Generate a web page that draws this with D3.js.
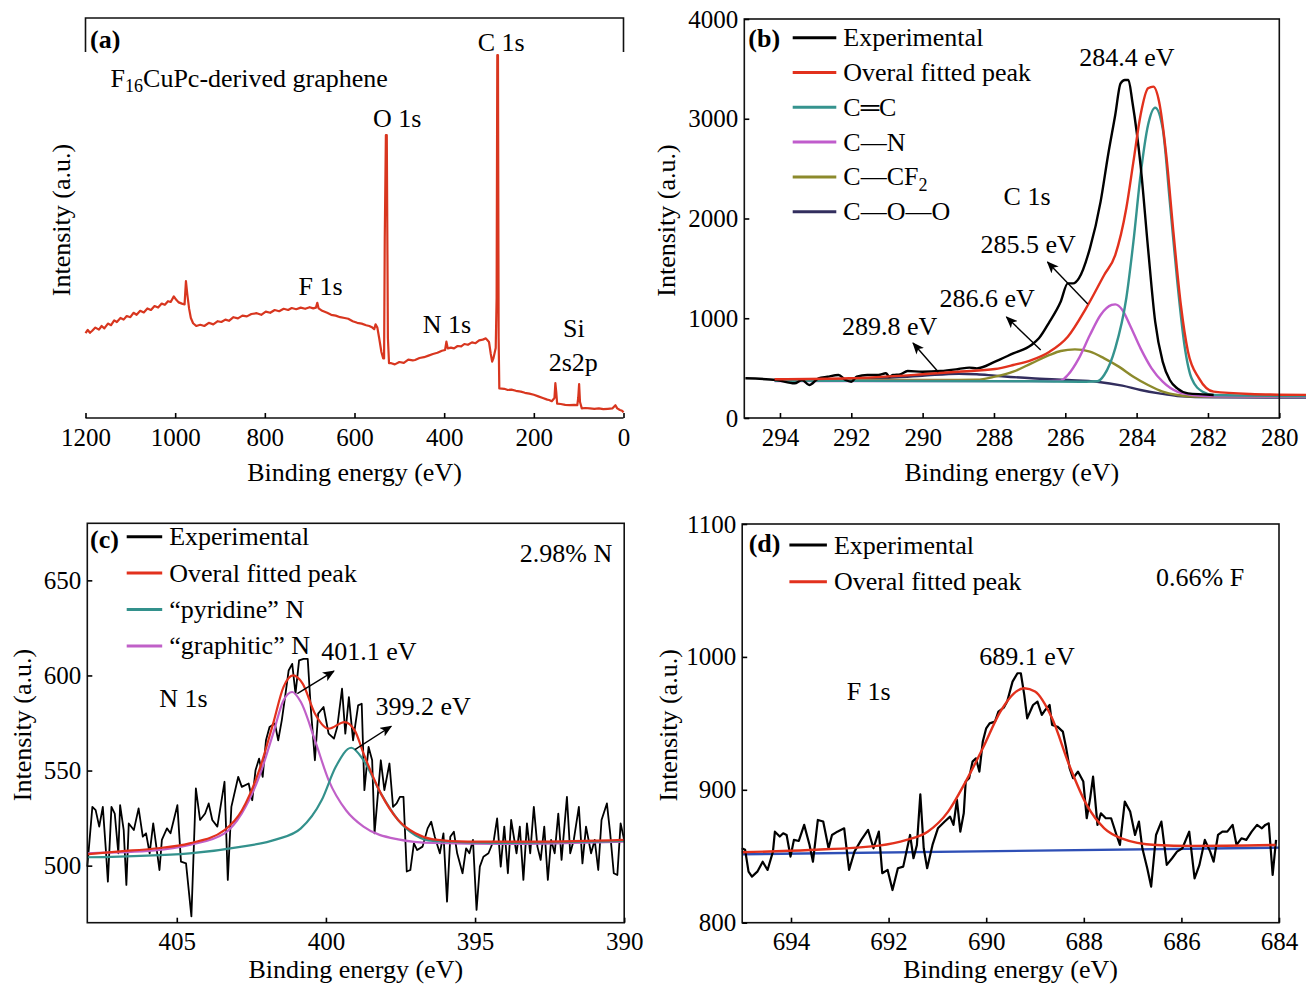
<!DOCTYPE html>
<html>
<head>
<meta charset="utf-8">
<script src="https://cdn.jsdelivr.net/npm/d3@7"></script>
<style>
body{margin:0;background:#fff}
svg text{font-family:"Liberation Serif","Times New Roman",serif;fill:#000}
</style>
</head>
<body>
<script>
// ---------- data (binding energy eV, intensity) ----------
// (a) survey, arbitrary units 0..100
const surveyA = [[1200,21.2],[1195,22.0],[1190,21.3],[1185,21.8],[1178,22.6],[1170,22.1],[1164,23.0],[1158,22.4],[1150,23.6],[1143,23.2],[1136,24.4],[1130,24.0],[1122,25.0],[1115,24.6],[1108,25.5],[1100,25.2],[1093,26.3],[1086,25.8],[1078,26.8],[1070,26.4],[1062,27.4],[1054,27.0],[1046,28.0],[1038,27.6],[1030,28.6],[1023,28.3],[1016,29.2],[1010,29.0],[1003,30.4],[998,29.6],[992,28.9],[985,28.6],[979,28.4],[976,34.2],[973,31],[969,27.4],[965,25.0],[960,23.7],[953,23.0],[944,23.3],[935,23.0],[925,23.8],[915,23.4],[905,24.2],[897,24.0],[888,24.6],[880,24.3],[870,25.2],[860,24.9],[850,25.6],[840,25.4],[830,26.0],[818,26.2],[808,25.8],[798,26.6],[788,26.3],[778,27.0],[768,26.7],[758,27.3],[748,27.0],[740,27.5],[730,27.2],[720,27.6],[710,27.3],[700,27.7],[692,27.4],[686,27.6],[683,28.8],[680,27.4],[672,26.8],[661,26.3],[652,25.8],[642,25.6],[632,25.2],[622,25.0],[614,24.8],[604,24.2],[594,23.8],[584,23.6],[574,23.2],[567,23.0],[560,22.6],[556,22.2],[553,23.4],[549,22.6],[545,20.0],[540,16.5],[536,14.9],[534,14.9],[532.5,45],[530,70.7],[528,70.7],[525.5,20],[523,13.7],[518,13.7],[510,13.4],[500,14.0],[490,13.8],[480,14.6],[470,14.4],[465,14.5],[455,15.0],[445,15.2],[435,15.6],[425,16.0],[415,16.3],[405,16.8],[398,17.0],[395,19.1],[392,17.4],[385,17.6],[378,17.4],[370,18.0],[362,17.9],[355,18.5],[347,18.3],[338,18.9],[330,18.7],[322,19.4],[314,19.6],[307,19.9],[300,19.0],[296,16],[293,14.1],[290,15],[286,17.0],[285,17.5],[283,30],[281.5,90.7],[280,90.7],[278.5,20],[277,7.4],[266,7.3],[258,7.0],[250,7.1],[240,6.8],[229,6.6],[220,6.3],[210,6.1],[200,5.8],[190,5.4],[180,5.0],[170,4.6],[166,4.5],[160,4.2],[154,5.0],[152,8.7],[150,6.5],[148,3.6],[140,3.5],[130,3.3],[120,3.2],[110,3.3],[103,3.2],[101,5],[99,8.5],[97,4],[93,2.4],[85,2.5],[75,2.4],[65,2.3],[55,2.4],[45,2.2],[35,2.3],[25,2.4],[18,3.2],[14,2.4],[8,2.0],[3,1.8],[0,1.4]];

// (b) C 1s
const expB = [[294.97,398],[294.10,381],[293.59,348],[293.38,381],[293.18,331],[292.92,398],[292.67,414],[292.36,431],[292.16,381],[292.0,364],[291.85,414],[291.55,431],[291.24,431],[291.03,448],[290.93,414],[290.83,431],[290.63,438],[290.42,471],[290.01,464],[289.50,471],[288.99,491],[288.69,505],[288.48,498],[287.97,565],[287.46,648],[286.95,732],[286.74,799],[286.44,966],[286.13,1166],[285.93,1350],[285.78,1350],[285.62,1400],[285.31,1701],[285.01,2169],[284.80,2637],[284.60,3038],[284.45,3355],[284.33,3388],[284.23,3388],[284.12,3171],[283.89,2536],[283.68,1701],[283.48,966],[283.27,565],[283.07,381],[282.86,297],[282.56,247],[282.15,237],[281.84,231]];
const fitB = [[294.15,388],[292.06,398],[290.01,438],[288.99,464],[287.97,491],[287.46,531],[286.95,581],[286.44,665],[285.93,815],[285.42,1099],[284.91,1434],[284.60,1634],[284.29,2102],[284.09,2570],[283.89,3038],[283.68,3305],[283.53,3322],[283.37,3171],[283.17,2637],[282.97,1868],[282.76,1133],[282.56,665],[282.25,398],[281.84,264],[280.82,241],[279.1,231]];
const ccB = [[294.15,374],[290,370],[287,368],[285.42,364],[285.1,368],[284.91,431],[284.60,698],[284.29,1200],[284.09,1768],[283.89,2436],[283.68,2937],[283.48,3111],[283.27,2904],[283.07,2169],[282.86,1367],[282.66,732],[282.46,398],[282.15,264],[281.84,231],[279.1,221]];
const cnB = [[294.15,371],[292,371],[288,370],[286.5,370],[286.13,375],[285.93,431],[285.62,598],[285.31,832],[285.01,1033],[284.7,1133],[284.60,1139],[284.4,1083],[284.19,932],[283.89,698],[283.58,498],[283.27,364],[282.86,264],[282.35,227],[281.84,217],[279.1,215]];
const ccf2B = [[294.15,381],[290,381],[288.48,383],[287.97,414],[287.46,464],[286.95,548],[286.44,632],[286.13,672],[285.73,688],[285.31,665],[284.91,598],[284.5,515],[284.09,414],[283.68,331],[283.27,264],[282.86,231],[282.35,214],[279.1,212]];
const cooB = [[294.15,385],[292,388],[290.01,424],[288.99,444],[288.48,438],[287.97,424],[286.95,398],[285.93,381],[285.11,364],[284.4,324],[283.89,281],[283.37,247],[282.86,221],[281.84,207],[279.1,205]];

// (c) N 1s
const expC = [[408.0,499.5],[407.83,530.9],[407.72,529.2],[407.60,520.5],[407.48,530.9],[407.37,506.5],[407.31,491.6],[407.19,530.9],[407.08,527.4],[406.96,506.5],[406.90,531.8],[406.78,518.7],[406.69,489.9],[406.61,522.2],[406.44,518.7],[406.28,530.1],[406.14,515.2],[406.03,517.0],[405.91,506.5],[405.79,522.2],[405.58,497.7],[405.50,513.5],[405.33,519.6],[405.21,517.0],[404.98,531.8],[404.86,502.1],[404.69,501.2],[404.51,473.3],[404.36,540.6],[404.22,524.0],[404.05,527.4],[403.93,532.7],[403.81,524.0],[403.64,520.5],[403.40,544.1],[403.29,492.5],[403.17,530.9],[402.94,546.7],[402.82,541.4],[402.59,543.2],[402.47,534.4],[402.36,550.2],[402.24,556.3],[402.12,546.7],[402.01,565.9],[401.89,572.9],[401.71,574.7],[401.60,565.9],[401.48,576.4],[401.37,588.6],[401.25,602.6],[401.13,606.1],[401.02,590.4],[400.90,607.9],[400.75,608.7],[400.61,608.7],[400.51,583.4],[400.37,555.4],[400.26,579.9],[400.08,583.4],[399.91,569.4],[399.73,566.8],[399.62,572.9],[399.46,593.0],[399.35,569.4],[399.23,588.6],[399.09,565.9],[398.92,584.3],[398.80,585.1],[398.71,539.7],[398.57,562.4],[398.45,555.4],[398.37,517.0],[398.16,555.4],[398.04,539.7],[397.87,553.7],[397.75,530.9],[397.63,532.7],[397.52,536.2],[397.40,536.2],[397.29,496.9],[397.17,497.7],[397.05,511.7],[396.94,508.2],[396.76,510.0],[396.59,519.6],[396.47,523.1],[396.35,515.2],[396.18,506.5],[396.06,517.0],[395.94,481.1],[395.83,515.2],[395.71,517.8],[395.60,506.5],[395.42,496.0],[395.30,509.1],[395.19,506.5],[395.07,513.5],[394.95,476.7],[394.84,499.5],[394.72,504.7],[394.55,506.5],[394.37,513.5],[394.26,524.8],[394.14,499.5],[394.02,520.5],[393.90,496.0],[393.79,524.0],[393.61,506.5],[393.50,520.5],[393.38,492.5],[393.26,522.2],[393.15,506.5],[393.03,530.9],[392.91,510.0],[392.80,503.0],[392.68,520.5],[392.56,492.5],[392.45,513.5],[392.33,506.5],[392.21,527.4],[392.10,503.0],[391.92,536.2],[391.81,506.5],[391.69,513.5],[391.52,530.9],[391.40,501.2],[391.28,520.5],[391.11,506.5],[390.99,513.5],[390.87,497.7],[390.76,524.0],[390.58,532.7],[390.47,517.0],[390.35,496.0],[390.23,495.1],[390.12,522.2],[390.0,513.5]];
const fitC = [[408,506],[406.9,507.5],[405.74,509],[404.57,511.7],[403.4,518.7],[402.82,529],[402.24,550],[401.77,574.7],[401.42,594],[401.1,600],[400.78,595.7],[400.37,580],[399.91,572],[399.38,575.5],[399.03,571],[398.74,559],[398.16,538],[397.58,524],[397.0,517],[396.41,513.8],[395.25,512.6],[392.91,512.6],[390,513.5]];
const pyrC = [[408,504.4],[404.57,506.5],[402.82,510],[401.66,513.8],[400.84,519.6],[400.14,534.5],[399.67,552],[399.15,562],[398.74,555.4],[398.16,538],[397.58,524],[397.0,516],[396.41,513],[394.08,512],[390,513]];
const graC = [[408,506.5],[405.74,508],[404.57,510.9],[403.4,517],[402.82,527.5],[402.24,546.7],[401.77,569.4],[401.42,587],[401.13,591.3],[400.84,586],[400.37,566],[399.91,545],[399.32,529],[398.74,520.5],[397.58,513.8],[396.41,511.9],[394.08,511.4],[390,512.6]];

// (d) F 1s
const expD = [[695.01,856.0],[694.94,854.8],[694.87,838.4],[694.80,834.7],[694.69,838.4],[694.58,845.9],[694.48,839.7],[694.37,853.5],[694.33,868.5],[694.23,864.8],[694.16,867.3],[694.09,866.0],[694.01,849.7],[693.94,862.3],[693.84,861.5],[693.73,873.6],[693.62,858.5],[693.55,845.9],[693.45,877.3],[693.34,876.1],[693.23,856.0],[693.16,866.0],[693.05,868.5],[692.91,871.0],[692.81,839.7],[692.70,853.5],[692.56,862.3],[692.42,869.8],[692.31,856.0],[692.20,868.5],[692.13,837.2],[692.02,839.7],[691.92,824.6],[691.81,841.0],[691.70,842.2],[691.56,866.0],[691.49,848.5],[691.42,858.5],[691.35,896.6],[691.28,856.0],[691.21,841.0],[691.10,858.5],[690.99,871.0],[690.85,876.1],[690.74,879.8],[690.67,873.6],[690.60,892.4],[690.53,868.5],[690.46,882.3],[690.42,906.2],[690.35,908.7],[690.28,921.2],[690.21,923.7],[690.14,913.7],[690.07,936.3],[690.00,946.3],[689.93,950.0],[689.82,951.3],[689.75,958.8],[689.64,961.8],[689.57,966.4],[689.46,981.4],[689.36,987.7],[689.29,987.7],[689.22,971.4],[689.16,953.8],[689.04,963.8],[688.95,966.4],[688.86,956.3],[688.79,960.1],[688.70,963.8],[688.65,948.8],[688.54,947.5],[688.43,943.8],[688.36,931.2],[688.29,916.2],[688.22,908.7],[688.12,913.7],[688.01,906.2],[687.94,878.6],[687.87,893.6],[687.81,909.9],[687.72,873.6],[687.65,882.3],[687.55,878.6],[687.44,878.6],[687.33,866.0],[687.26,858.5],[687.16,891.1],[687.05,883.6],[686.95,866.0],[686.87,876.1],[686.80,856.0],[686.70,841.0],[686.62,827.2],[686.52,866.0],[686.41,876.1],[686.30,843.5],[686.19,848.5],[686.09,853.5],[685.98,856.0],[685.84,868.5],[685.73,833.4],[685.63,843.5],[685.52,862.3],[685.41,853.5],[685.34,845.9],[685.25,866.0],[685.16,868.5],[685.06,868.5],[684.95,873.6],[684.87,858.5],[684.77,863.5],[684.67,862.3],[684.56,868.5],[684.45,873.6],[684.35,871.0],[684.28,873.6],[684.21,874.8],[684.13,836.0],[684.06,862.3]];
const fitD = [[695.01,853.0],[693.62,854.7],[692.2,858.0],[691.63,862.3],[691.2,868.5],[690.78,883.6],[690.42,906.2],[690.07,931.2],[689.71,958.8],[689.43,972.6],[689.22,976.4],[689.0,973.9],[688.65,953.8],[688.3,918.7],[687.94,888.6],[687.58,871.0],[687.23,863.5],[686.52,858.5],[685.8,857.8],[684.07,858.5]];
const baseD = [[695,851.5],[684,856.5]];

// ticks
const ticksAx = [1200,1000,800,600,400,200,0];
const ticksBx = [294,292,290,288,286,284,282,280];
const ticksBy = [0,1000,2000,3000,4000];
const ticksCx = [405,400,395,390];
const ticksCy = [500,550,600,650];
const ticksDx = [694,692,690,688,686,684];
const ticksDy = [800,900,1000,1100];

// legend labels
const legendB = ['Experimental','Overal fitted peak','C\u2550C','C\u2014N','C\u2014CF','C\u2014O\u2014O'];
const legendC = ['Experimental','Overal fitted peak','\u201cpyridine\u201d N','\u201cgraphitic\u201d N'];
const legendD = ['Experimental','Overal fitted peak'];

// annotations [energy, intensity, text]
const notesA = [[325,91.75,'C 1s'],[559,72.8,'O 1s'],[725,30.75,'F 1s'],[448,21.25,'N 1s'],[135,20.3,'Si'],[167,11.75,'2s2p']];
const notesB = [[287.73,2135,'C 1s'],[288.38,1654,'285.5 eV'],[289.53,1113,'286.6 eV'],[292.26,832,'289.8 eV']];
const arrowsB = [[285.37,1143,286.50,1564],[286.69,682,287.65,1013],[289.56,461,290.27,752]];
const notesC = [[405.59,583.4,'N 1s'],[400.16,607.9,'401.1 eV'],[398.34,579,'399.2 eV'],[393.5,659.4,'2.98% N']];
const arrowsC = [[400.96,590.4,399.73,602.3],[399.03,561,397.81,573.3]];
const notesD = [[692.86,967.6,'F 1s'],[690.14,993.9,'689.1 eV'],[686.52,1053.3,'0.66% F']];

// ---------- drawing ----------
const svg = d3.select('body').append('svg').attr('width',1306).attr('height',988);
svg.append('defs').append('marker').attr('id','arr')
  .attr('markerUnits','userSpaceOnUse').attr('markerWidth',12).attr('markerHeight',10)
  .attr('refX',11).attr('refY',5).attr('orient','auto')
  .append('path').attr('d','M0,0 L12,5 L0,10 L3,5 Z').attr('fill','#000');

const FS = 25;

function makePanel(box, xd, yd){
  const x = d3.scaleLinear().domain(xd).range([box.l, box.r]);
  const y = d3.scaleLinear().domain(yd).range([box.b, box.t]);
  return {x, y, box, g: svg.append('g')};
}

function axes(p, xt, yt){
  const gx = p.g.append('g').attr('transform','translate(0,'+p.box.b+')')
    .call(d3.axisBottom(p.x).tickValues(xt).tickSizeInner(-5).tickSizeOuter(0).tickPadding(10).tickFormat(d3.format('d')));
  gx.select('.domain').remove();
  gx.selectAll('line').attr('stroke','#000').attr('stroke-width',1.6);
  gx.selectAll('text').attr('font-size',FS).attr('font-family','Liberation Serif');
  if(yt){
    const gy = p.g.append('g').attr('transform','translate('+p.box.l+',0)')
      .call(d3.axisLeft(p.y).tickValues(yt).tickSizeInner(-5).tickSizeOuter(0).tickPadding(6).tickFormat(d3.format('d')));
    gy.select('.domain').remove();
    gy.selectAll('line').attr('stroke','#000').attr('stroke-width',1.6);
    gy.selectAll('text').attr('font-size',FS).attr('font-family','Liberation Serif');
  }
}

function frame(p){
  const b = p.box;
  p.g.append('rect').attr('x',b.l).attr('y',b.t).attr('width',b.r-b.l).attr('height',b.b-b.t)
    .attr('fill','none').attr('stroke','#111').attr('stroke-width',1.6);
}

function line(p, data, color, w, smooth){
  const gen = d3.line().x(d=>p.x(d[0])).y(d=>p.y(d[1]))
    .curve(smooth ? d3.curveMonotoneX : d3.curveLinear);
  p.g.append('path').datum(data).attr('d',gen).attr('fill','none')
    .attr('stroke',color).attr('stroke-width',w).attr('stroke-linejoin','round');
}

function titles(p, yx, xy){
  const b = p.box;
  p.g.append('text').attr('x',(b.l+b.r)/2).attr('y',xy).attr('text-anchor','middle')
    .attr('font-size',26).text('Binding energy (eV)');
  p.g.append('text').attr('transform','translate('+yx+','+((b.t+b.b)/2+2)+') rotate(-90)')
    .attr('text-anchor','middle').attr('font-size',26).text('Intensity (a.u.)');
}

function label(p, txt, dx, dy){
  p.g.append('text').attr('x',p.box.l+dx).attr('y',p.box.t+dy).attr('font-size',26)
    .attr('font-weight','bold').text(txt);
}

function notes(p, arr){
  p.g.selectAll(null).data(arr).enter().append('text')
    .attr('x',d=>p.x(d[0])).attr('y',d=>p.y(d[1])).attr('font-size',26).text(d=>d[2]);
}

function arrows(p, arr){
  p.g.selectAll(null).data(arr).enter().append('line')
    .attr('x1',d=>p.x(d[0])).attr('y1',d=>p.y(d[1])).attr('x2',d=>p.x(d[2])).attr('y2',d=>p.y(d[3]))
    .attr('stroke','#000').attr('stroke-width',1.4).attr('marker-end','url(#arr)');
}

function legend(p, names, colors, x0, x1, y0, step){
  names.forEach((n,i)=>{
    const yy = p.box.t + y0 + i*step;
    p.g.append('line').attr('x1',p.box.l+x0).attr('x2',p.box.l+x1).attr('y1',yy).attr('y2',yy)
      .attr('stroke',colors[i]).attr('stroke-width',3);
    const t = p.g.append('text').attr('x',p.box.l+x1+7).attr('y',yy).attr('dy','0.33em').attr('font-size',26).text(n);
    if(n==='C\u2014CF') t.append('tspan').attr('font-size',18).attr('dy',6).text('2');
  });
}

// ---- panel (a)
const pa = makePanel({l:85.5,r:623.5,t:18,b:418},[1200,0],[0,100]);
line(pa, surveyA, '#d8361f', 2.2, false);
pa.g.append('path').attr('d','M85.5,52 V18 H623.5 V52 M85.5,418 H623.5')
  .attr('fill','none').attr('stroke','#111').attr('stroke-width',1.6);
axes(pa, ticksAx, null);
titles(pa, 70, 481);
label(pa,'(a)',4.5,30);
notes(pa, notesA);
const fa = pa.g.append('text').attr('x',pa.x(1144)).attr('y',pa.y(82.8)).attr('font-size',26);
fa.append('tspan').text('F');
fa.append('tspan').attr('font-size',18).attr('dy',5).text('16');
fa.append('tspan').attr('dy',-5).text('CuPc-derived graphene');

// ---- panel (b)
const pb = makePanel({l:744.3,r:1279.3,t:19,b:418},[295,280],[0,4000]);
const colB = ['#000','#e2311d','#35938e','#c05ccc','#8c8a2c','#322e5e'];
line(pb, cooB, colB[5], 2.4, true);
line(pb, ccf2B, colB[4], 2.4, true);
line(pb, cnB, colB[3], 2.4, true);
line(pb, ccB, colB[2], 2.4, true);
line(pb, expB, colB[0], 2.4, true);
line(pb, fitB, colB[1], 2.4, true);
frame(pb);
axes(pb, ticksBx, ticksBy);
titles(pb, 675, 481);
label(pb,'(b)',4,28);
legend(pb, legendB, colB, 48.4, 92, 18.7, 34.8);
notes(pb, notesB);
pb.g.append('text').attr('x',pb.x(284.27)).attr('y',pb.y(3529)).attr('text-anchor','middle').attr('font-size',26).text('284.4 eV');
arrows(pb, arrowsB);

// ---- panel (c)
const pc = makePanel({l:87.3,r:624.2,t:523.3,b:922.7},[408,390],[470,680]);
const colC = ['#000','#e2311d','#33918c','#c060c8'];
line(pc, expC, colC[0], 1.8, false);
line(pc, graC, colC[3], 2.2, true);
line(pc, pyrC, colC[2], 2.2, true);
line(pc, fitC, colC[1], 2.2, true);
frame(pc);
axes(pc, ticksCx, ticksCy);
titles(pc, 31, 978);
label(pc,'(c)',2.7,24.7);
legend(pc, legendC, colC, 39.4, 74.9, 13.4, 36.4);
notes(pc, notesC);
arrows(pc, arrowsC);

// ---- panel (d)
const pd = makePanel({l:742.2,r:1279,t:524,b:922.7},[695,684],[800,1100]);
const colD = ['#000','#e2311d'];
line(pd, baseD, '#2e4fb6', 2.4, false);
line(pd, expD, colD[0], 2.2, false);
line(pd, fitD, colD[1], 2.4, true);
frame(pd);
axes(pd, ticksDx, ticksDy);
titles(pd, 677, 978);
label(pd,'(d)',6.5,27.7);
legend(pd, legendD, colD, 47.2, 84.7, 21, 36.7);
notes(pd, notesD);
</script>
</body>
</html>
